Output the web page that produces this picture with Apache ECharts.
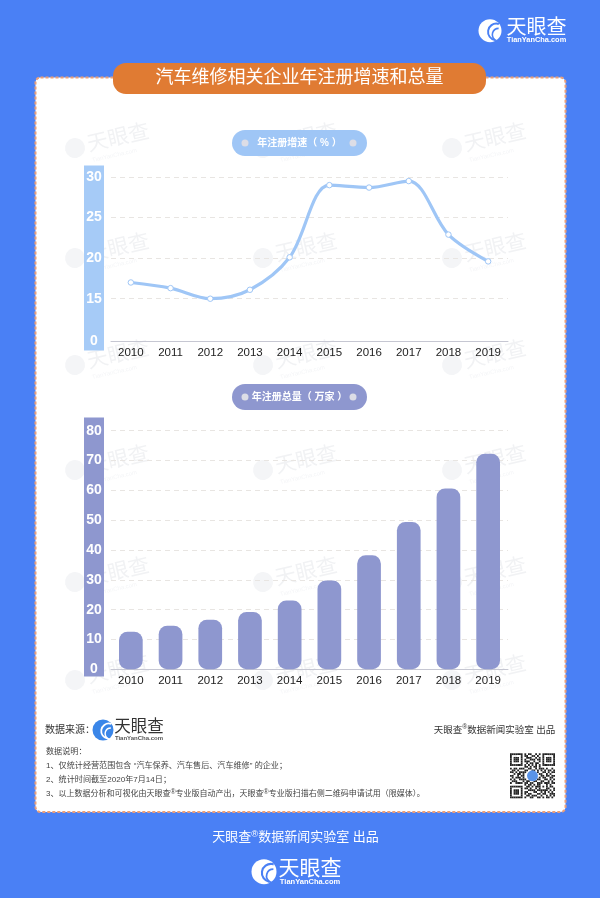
<!DOCTYPE html>
<html><head><meta charset="utf-8">
<style>html,body{margin:0;padding:0;background:#4a80f5}#c{width:600px;height:898px}</style>
<script src="https://cdn.jsdelivr.net/npm/echarts@6/dist/echarts.min.js"></script></head>
<body><div id="c"></div>
<script>
const years = ['2010','2011','2012','2013','2014','2015','2016','2017','2018','2019'];
const growthRate = [17.0,16.3,15.0,16.1,20.1,29.0,28.7,29.5,22.9,19.6];
const totalCount = [12.6,14.6,16.6,19.2,23.1,29.8,38.2,49.4,60.6,72.3];
const growthTicks = [0,15,20,25,30];
const totalTicks = [0,10,20,30,40,50,60,70,80];
const titleText = '汽车维修相关企业年注册增速和总量';
const growthTitle = '年注册增速（ % ）';
const totalTitle = '年注册总量（ 万家 ）';
const noteLines = ['数据说明：','1、仅统计经营范围包含 “汽车保养、汽车售后、汽车维修” 的企业；','2、统计时间截至2020年7月14日；'];
const watermarkCols = [75,263,452];
const watermarkRows = [148,258,365,470,582,680];
const qrRows = [
'1111111010110010101111111','1000001011001101001000001','1011101001110010101011101','1011101010011101101011101',
'1011101011100100101011101','1000001001011011001000001','1111111010101010101111111','0000000011010110100000000',
'1011011100110010111010010','0110100011001101010101101','1101011110000001001101011','0010110100000000110010100',
'1100101100000000011011011','0101110100000000101100110','1010011110000001100110101','0111000101100110011001010',
'1001111011011001110111011','0000000010110101100010100','1111111001101011101010110','1000001011010010100011001',
'1011101000111101111110101','1011101011000110010101010','1011101010110001101100111','1000001001101110010010101',
'1111111010011001101011010'];

const CJK = '"Liberation Sans","Noto Sans CJK SC",sans-serif';
const BG='#4a80f5', LINE='#9fc6f6', BAR='#8e97cf';
const gfx = [];
function rect(x,y,w,h,fill,r,extra){gfx.push(Object.assign({type:'rect',shape:{x,y,width:w,height:h,r:r||0},style:{fill},silent:true},extra||{}));}
function text(x,y,t,size,fill,opt){opt=opt||{};gfx.push({type:'text',x,y,silent:true,z:opt.z||5,style:Object.assign({text:t,fontSize:size,fill,fontFamily:CJK,fontWeight:opt.bold?'bold':'normal',textAlign:opt.align||'left',textVerticalAlign:'middle',verticalAlign:'middle',align:opt.align||'left'},opt.style||{})});}
function logo(cx,cy,r,color,hole,tx,tw,nameSize,subSize,nameColor,subColor){
  gfx.push({type:'circle',shape:{cx,cy,r},style:{fill:color},silent:true,z:5});
  gfx.push({type:'arc',shape:{cx:cx+r*0.55,cy:cy+r*0.1,r:r*0.72,startAngle:Math.PI*0.55,endAngle:Math.PI*1.6},style:{stroke:hole,lineWidth:r*0.17,fill:null},silent:true,z:6});
  gfx.push({type:'arc',shape:{cx:cx+r*0.75,cy:cy+r*0.35,r:r*0.55,startAngle:Math.PI*0.6,endAngle:Math.PI*1.5},style:{stroke:hole,lineWidth:r*0.14,fill:null},silent:true,z:6});
  text(tx+tw/2,cy-r*0.2,'天眼查',nameSize,nameColor,{align:'center'});
  text(tx+tw/2,cy+r*0.82,'TianYanCha.com',subSize,subColor,{align:'center',bold:true});
}
function markedText(cx,y,size,color){
  const s=size*0.72;
  gfx.push({type:'text',x:cx,y,silent:true,z:5,style:{
    rich:{t:{fontSize:size,fill:color,fontFamily:CJK},s:{fontSize:s,fill:color,fontFamily:CJK,verticalAlign:'top',lineHeight:size*1.3}},
    text:'{t|天眼查}{s|®}{t|数据新闻实验室 出品}',textAlign:'center',align:'center',verticalAlign:'middle',textVerticalAlign:'middle'}});
}

// card
rect(35.5,77.5,530,734.5,'#fff',5,{style:{fill:'#fff',stroke:'#ec9f78',lineWidth:2,lineDash:[3,2]},z:1});
// watermarks
watermarkRows.forEach(y=>watermarkCols.forEach(x=>{
  gfx.push({type:'group',x,y,rotation:Math.PI/14,silent:true,z:2,children:[
    {type:'circle',z:2,shape:{cx:0,cy:0,r:10},style:{fill:'#f4f5f7'}},
    {type:'text',z:2,x:13,y:-10,style:{text:'天眼查',fontSize:21,fill:'#f1f2f4',fontFamily:CJK}},
    {type:'text',z:2,x:14,y:13,style:{text:'TianYanCha.com',fontSize:6,fill:'#f4f5f7',fontFamily:CJK}}
  ]});
}));
// title pill
rect(113,63,373,31,'#e07b33',13,{z:4});
text(299.5,78.5,titleText,18,'#fff',{align:'center'});
// section pills
[[130,26,LINE,growthTitle],[384,26,BAR,totalTitle]].forEach(p=>{
  rect(232,p[0],135,p[1],p[2],13,{z:4});
  gfx.push({type:'circle',shape:{cx:245,cy:p[0]+13,r:3.5},style:{fill:'#dcdde6'},silent:true,z:5});
  gfx.push({type:'circle',shape:{cx:353,cy:p[0]+13,r:3.5},style:{fill:'#dcdde6'},silent:true,z:5});
  text(299.5,p[0]+13,p[3],10,'#fff',{align:'center',bold:true});
});
// axis strips
rect(84,165.5,20,185,'#a6cbf7',0,{z:3});
rect(84,417.5,20,259,BAR,0,{z:3});
// top logo
logo(490,30.7,11.5,'#fff',BG,506,61,20,7.4,'#fff','#fff');
// source row
text(45,730,'数据来源：',10,'#333');
logo(103,730,10.5,'#3a86e8','#fff',114,50,16.5,6,'#333','#555');
markedText(494.5,730,9.5,'#333');
// notes
noteLines.forEach((t,i)=>text(46,[752,766,780][i],t,8.1,'#444'));
gfx.push({type:'text',x:46,y:793.7,silent:true,z:5,style:{
  rich:{t:{fontSize:8,fill:'#444',fontFamily:CJK},s:{fontSize:7,fill:'#444',fontFamily:CJK,verticalAlign:'top',lineHeight:11}},
  text:'{t|3、以上数据分析和可视化由天眼查}{s|®}{t|专业版自动产出，天眼查}{s|®}{t|专业版扫描右侧二维码申请试用（限媒体）。}',
  verticalAlign:'middle',textVerticalAlign:'middle'}});
// QR
const cell=45/25;
qrRows.forEach((row,j)=>{for(let i=0;i<row.length;i++){if(row[i]==='1')gfx.push({type:'rect',z:5,shape:{x:510+i*cell,y:753.3+j*cell,width:cell,height:cell},style:{fill:'#222'},silent:true});}});
gfx.push({type:'circle',shape:{cx:532.5,cy:775.8,r:5.5},style:{fill:'#5a94e8'},silent:true,z:6});
// footer
markedText(295.5,837.7,13,'#fff');
logo(264,871.7,12.5,'#fff',BG,280,60,21,7.5,'#fff','#fff');

const xCommon=(g)=>({type:'category',gridIndex:g,data:years,z:10,
  axisLine:{lineStyle:{color:'#c6c7d2',width:1}},axisTick:{show:false},
  axisLabel:{color:'#222',fontSize:11.5,fontFamily:'"Liberation Sans",sans-serif',margin:6,interval:0}});
const chart=echarts.init(document.getElementById('c'),null,{renderer:'canvas'});
chart.setOption({
  backgroundColor:BG,animation:false,
  grid:[{left:111,width:397,top:177,height:164.3},{left:111,width:397,top:430.7,height:238.6}],
  xAxis:[xCommon(0),xCommon(1)],
  yAxis:[{type:'value',gridIndex:0,min:0,max:30,z:10,
    breaks:[{start:0,end:15,gap:5.25}],
    breakArea:{show:false},
    axisLine:{show:false},axisTick:{show:false,customValues:growthTicks},
    axisLabel:{color:'#fff',fontSize:14,fontWeight:'bold',fontFamily:'"Liberation Sans",sans-serif',align:'center',margin:17,customValues:growthTicks},
    splitLine:{show:true,lineStyle:{color:'#e8e5e2',type:[5,4],width:1}}},
   {type:'value',gridIndex:1,min:0,max:80,interval:10,z:10,
    axisLine:{show:false},axisTick:{show:false},
    axisLabel:{color:'#fff',fontSize:14,fontWeight:'bold',fontFamily:'"Liberation Sans",sans-serif',align:'center',margin:17,padding:[0,0,6,0],customValues:totalTicks},
    splitLine:{show:true,lineStyle:{color:'#e8e5e2',type:[5,4],width:1}}}],
  series:[
   {type:'line',xAxisIndex:0,yAxisIndex:0,data:growthRate,smooth:0.33,symbol:'circle',symbolSize:5.5,z:14,
    lineStyle:{color:LINE,width:3.2},itemStyle:{color:'#fff',borderColor:LINE,borderWidth:1}},
   {type:'bar',xAxisIndex:1,yAxisIndex:1,data:totalCount,barWidth:23.7,z:14,
    itemStyle:{color:BAR,borderRadius:8.5}}
  ],
  graphic:gfx
});
</script></body></html>
